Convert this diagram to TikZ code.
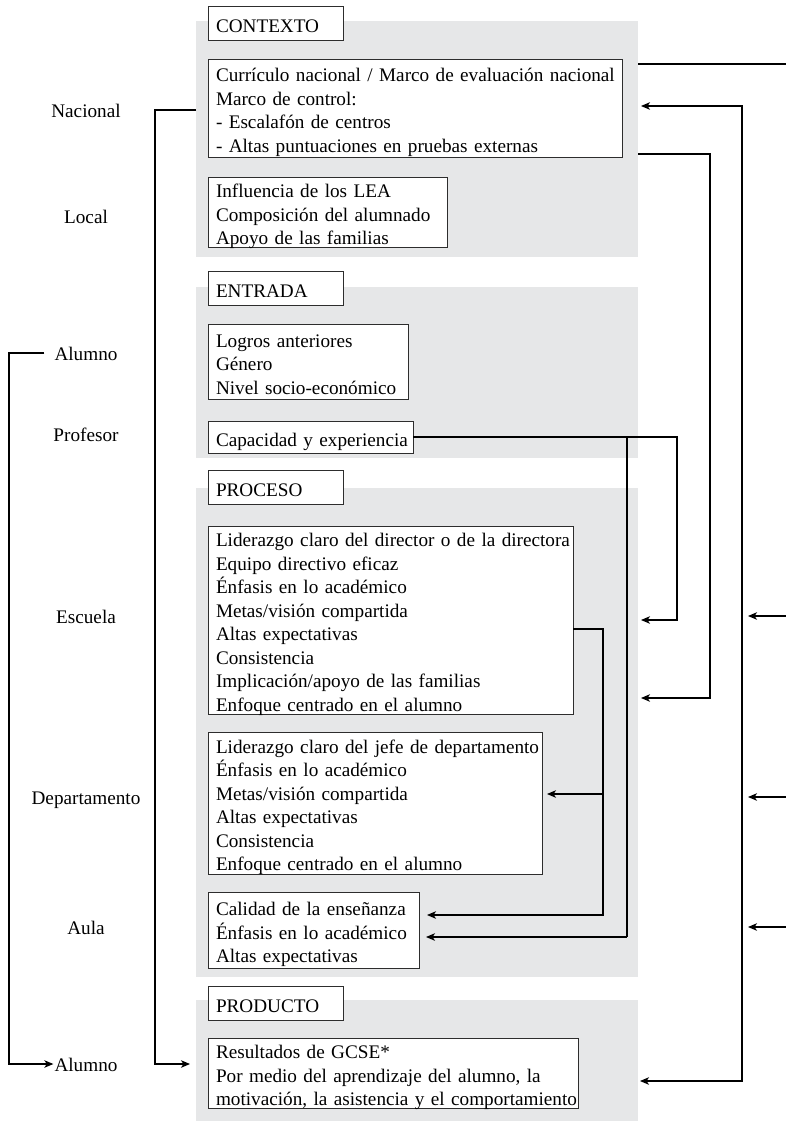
\documentclass[tikz,border=0pt]{standalone}
\usepackage{fontspec}
\setmainfont{Liberation Serif}
\usetikzlibrary{arrows.meta,calc}
\definecolor{panelgray}{RGB}{230,231,232}
\definecolor{boxline}{RGB}{45,45,45}
\newcommand{\boxlines}[1]{\noindent\raisebox{-4.5pt}[\height][\depth]{\begin{tabular}{@{}l@{}}#1\end{tabular}}}
\begin{document}
\begin{tikzpicture}[x=1pt,y=-1pt,
  txt/.style={font=\fontsize{19.2}{23.5}\selectfont},
  panel/.style={fill=panelgray,draw=none,anchor=north west,inner sep=0pt,outer sep=0pt},
  hbox/.style={txt,draw=boxline,line width=0.95pt,fill=white,anchor=north west,inner xsep=8pt,inner ysep=0pt,outer sep=0pt,align=left},
  lvl/.style={txt,inner sep=2pt,text height=16pt,text depth=1pt},
  conn/.style={line width=1.1pt,black},
  arr/.style={conn,-{Stealth[length=9pt,width=7.5pt,inset=2.5pt]}},
  darr/.style={conn,{Stealth[length=9pt,width=7.5pt,inset=2.5pt]}-{Stealth[length=9pt,width=7.5pt,inset=2.5pt]}},
]
\useasboundingbox (0,0) rectangle (786,1121);

% panels
\node[panel,minimum width=442pt,minimum height=236pt] (p1) at (196,21) {};
\node[panel,minimum width=442pt,minimum height=171pt] (p2) at (196,287) {};
\node[panel,minimum width=442pt,minimum height=489pt] (p3) at (196,488) {};
\node[panel,minimum width=442pt,minimum height=121pt] (p4) at (196,1000) {};

% section labels
\node[hbox,text width=119pt,minimum height=34pt] (t1) at (208,6) {\boxlines{CONTEXTO}};
\node[hbox,text width=119pt,minimum height=34pt] (t2) at (208,271) {\boxlines{ENTRADA}};
\node[hbox,text width=119pt,minimum height=34pt] (t3) at (208,470) {\boxlines{PROCESO}};
\node[hbox,text width=119pt,minimum height=34pt] (t4) at (208,986) {\boxlines{PRODUCTO}};

% content boxes
\node[hbox,text width=398pt,minimum height=98pt] (b1) at (208,59) {\boxlines{Currículo nacional / Marco de evaluación nacional\\ Marco de control:\\ - Escalafón de centros\\ - Altas puntuaciones en pruebas externas}};
\node[hbox,text width=223pt,minimum height=70pt] (b2) at (208,177) {\boxlines{Influencia de los LEA\\ Composición del alumnado\\ Apoyo de las familias}};
\node[hbox,text width=184pt,minimum height=75pt] (b3) at (208,324) {\boxlines{Logros anteriores\\ Género\\ Nivel socio-económico}};
\node[hbox,text width=189pt,minimum height=32pt] (b4) at (208,421) {\boxlines{Capacidad y experiencia}};
\node[hbox,text width=349pt,minimum height=188pt] (b5) at (208,526) {\boxlines{Liderazgo claro del director o de la directora\\ Equipo directivo eficaz\\ Énfasis en lo académico\\ Metas/visión compartida\\ Altas expectativas\\ Consistencia\\ Implicación/apoyo de las familias\\ Enfoque centrado en el alumno}};
\node[hbox,text width=318pt,minimum height=142pt] (b6) at (208,732) {\boxlines{Liderazgo claro del jefe de departamento\\ Énfasis en lo académico\\ Metas/visión compartida\\ Altas expectativas\\ Consistencia\\ Enfoque centrado en el alumno}};
\node[hbox,text width=195pt,minimum height=76pt] (b7) at (208,892) {\boxlines{Calidad de la enseñanza\\ Énfasis en lo académico\\ Altas expectativas}};
\node[hbox,text width=354pt,minimum height=69pt] (b8) at (208,1038) {\boxlines{Resultados de GCSE*\\ Por medio del aprendizaje del alumno, la\\ motivación, la asistencia y el comportamiento}};

% level labels
\node[lvl] (nac) at (86,110) {Nacional};
\node[lvl] (loc) at (86,216) {Local};
\node[lvl] (al1) at (86,353) {Alumno};
\node[lvl] (prof) at (86,434) {Profesor};
\node[lvl] (esc) at (86,616) {Escuela};
\node[lvl] (dep) at (86,797) {Departamento};
\node[lvl] (aula) at (86,927) {Aula};
\node[lvl] (al2) at (86,1064) {Alumno};

% bend coordinates
\coordinate (lxa) at (9,0);
\coordinate (lxb) at (155,0);
\coordinate (redge) at (786,0);
\coordinate (ctxout) at (786,64);
\coordinate (fbtop) at (742,106);
\coordinate (fbbot) at (742,1081);
\coordinate (r3x) at (710,154);
\coordinate (r3y) at (0,698);
\coordinate (r4x) at (677,0);
\coordinate (r4y) at (0,620);
\coordinate (r5x) at (627,0);
\coordinate (r5y) at (0,937);
\coordinate (r6x) at (603,629);
\coordinate (r6y) at (0,915);
\coordinate (r6b) at (0,794);

% left connectors
\draw[arr] ([xshift=-8pt]al1.west) -- (al1 -| lxa) -- (al2 -| lxa) -- ([xshift=1pt]al2.west);
\draw[arr] (nac -| p1.west) -- (nac -| lxb) -- (al2 -| lxb) -- ([xshift=-6pt]al2 -| p4.west);

% right connectors
\draw[conn] (ctxout -| p1.east) -- (ctxout);
\draw[darr] ([xshift=3pt]fbtop -| p1.east) -- (fbtop) -- (fbbot) -- ([xshift=2pt]fbbot -| p4.east);
\draw[arr] (esc -| redge) -- ([xshift=6pt]esc -| fbtop);
\draw[arr] (dep -| redge) -- ([xshift=6pt]dep -| fbtop);
\draw[arr] (aula -| redge) -- ([xshift=6pt]aula -| fbtop);

\draw[arr] (r3x -| p1.east) -- (r3x) -- (r3x |- r3y) -- ([xshift=3pt]r3y -| p3.east);
\draw[arr] (b4.east) -- (b4.east -| r4x) -- (r4x |- r4y) -- ([xshift=3pt]r4y -| p3.east);
\draw[conn] (b4.east -| r5x) -- (r5x |- r5y);
\draw[arr] (r5x |- r5y) -- ([xshift=7pt]r5y -| b7.east);
\draw[arr] (r6x -| b5.east) -- (r6x) -- (r6x |- r6y) -- ([xshift=8pt]r6y -| b7.east);
\draw[arr] (r6x |- r6b) -- ([xshift=5pt]r6b -| b6.east);
\end{tikzpicture}
\end{document}
